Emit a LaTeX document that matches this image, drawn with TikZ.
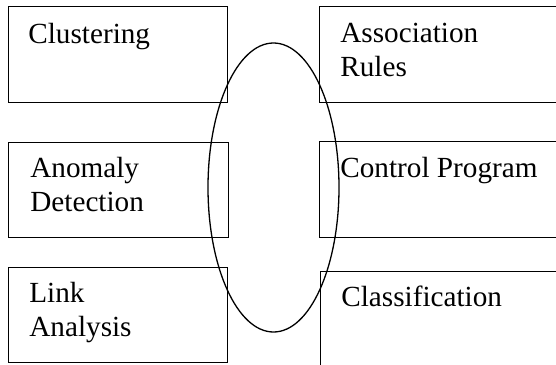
\documentclass[tikz,border=0pt]{standalone}
\usepackage{fontspec}
\setmainfont{Liberation Serif}
\usetikzlibrary{shapes.geometric}
\begin{document}
\begin{tikzpicture}[x=0.5pt,y=-0.5pt,
  box/.style={draw,line width=0.65pt,rectangle,inner sep=0pt,anchor=north west},
  lbl/.style={inner sep=0pt,anchor=base west,align=left,
    font=\fontsize{14.6pt}{16.8pt}\selectfont},
  ring/.style={draw,line width=0.65pt,ellipse,inner sep=0pt,
    minimum width=65.5pt,minimum height=144.5pt}]
\useasboundingbox (0,0) rectangle (556,364);
\clip (0,0) rectangle (556,364);
% left column
\node[box,minimum width=109.5pt,minimum height=48pt] (clu) at (8,6) {};
\node[box,minimum width=110pt,minimum height=47.5pt] (ano) at (8,142) {};
\node[box,minimum width=109.5pt,minimum height=47.5pt] (lnk) at (8,267) {};
% right column, running off the page edge
\node[box,minimum width=130pt,minimum height=48pt] (ass) at (319,6) {};
\node[box,minimum width=130pt,minimum height=48pt] (ctl) at (319,141) {};
\node[box,minimum width=130pt,minimum height=60pt] (cls) at (320,271) {};
% labels (base anchor sits on the last line)
\node[lbl] (tclu) at (28,43) {Clustering};
\node[lbl] (tano) at (30,211) {Anomaly\\Detection};
\node[lbl] (tlnk) at (29,336) {Link\\Analysis};
\node[lbl] (tass) at (340,76) {Association\\Rules};
\node[lbl] (tctl) at (340,177) {Control Program};
\node[lbl] (tcls) at (341,306) {Classification};
% central ellipse
\node[ring] (core) at (273.5,187.5) {};
\end{tikzpicture}
\end{document}
